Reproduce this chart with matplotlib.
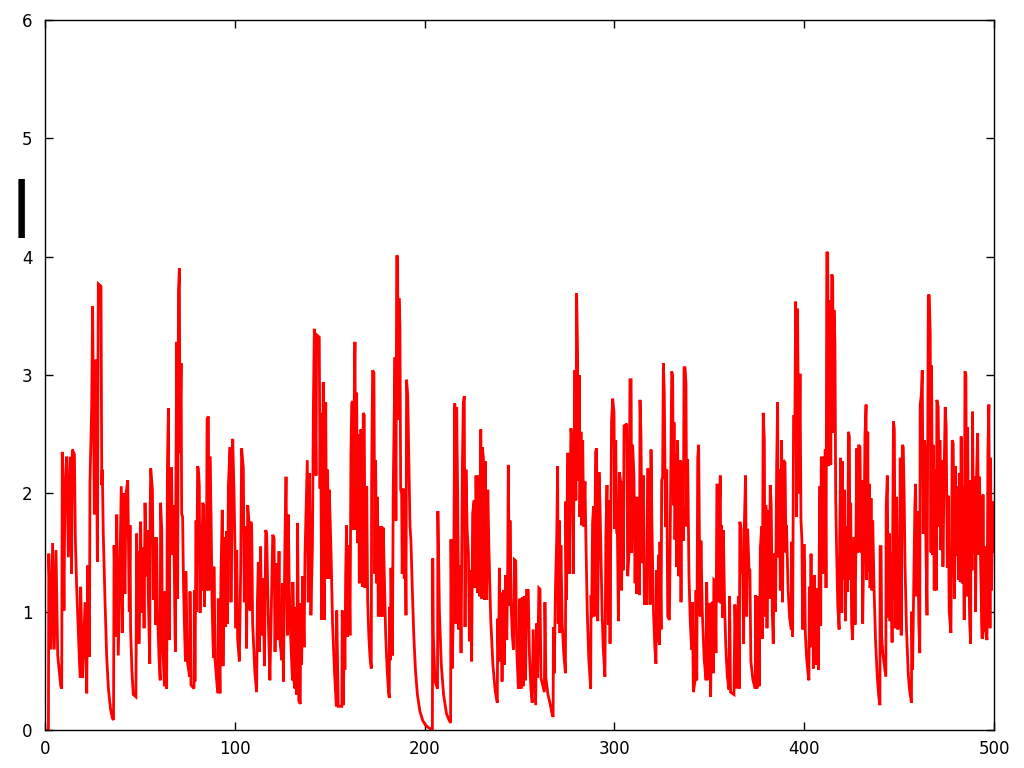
import matplotlib
matplotlib.use("Agg")
import matplotlib.pyplot as plt

# (time, intensity), one list per 100 time units
seg_000 = [
    (0, 0), (1.8, 0), (2.0, 1.49), (3.2, 0.68), (4.0, 1.58), (4.9, 0.68), (5.8, 1.52), (6.7, 0.63),
    (8.3, 0.37), (8.8, 0.35), (9.1, 2.35), (10.0, 1.01), (10.5, 2.06), (11.4, 2.31), (12.3, 1.46),
    (13.2, 2.31), (14.0, 1.32), (14.4, 2.37), (15.5, 2.33), (16.0, 1.6), (16.7, 1.2), (18.1, 0.6),
    (18.6, 0.44), (18.8, 1.21), (19.8, 0.44), (21.1, 1.08), (22.0, 0.31), (22.5, 1.39), (23.4, 0.62),
    (23.7, 2.1), (24.6, 2.73), (25.1, 3.58), (26.0, 1.82), (26.9, 3.13), (27.6, 1.42), (28.1, 3.77),
    (29.5, 3.75), (29.9, 2.07), (30.2, 2.2), (30.7, 1.66), (31.6, 1.1), (32.5, 0.62), (33.4, 0.35),
    (34.5, 0.18), (35.5, 0.1), (36.1, 0.085), (36.4, 1.56), (37.4, 0.79), (37.8, 1.82), (38.6, 0.63),
    (39.5, 1.41), (40.2, 2.06), (40.7, 0.82), (41.3, 2.0), (42.1, 1.15), (42.7, 2.0), (43.6, 2.11),
    (44.4, 1.0), (44.8, 1.73), (45.1, 0.85), (45.8, 0.5), (46.5, 0.30), (47.9, 0.28), (48.3, 1.66),
    (48.7, 1.2), (49.2, 1.51), (49.5, 0.73), (50.4, 1.76), (50.9, 0.99), (51.8, 1.54), (52.2, 0.86),
    (52.7, 1.92), (53.6, 1.3), (53.9, 1.69), (54.4, 1.15), (55.2, 0.56), (55.4, 1.86), (55.7, 2.21),
    (56.6, 2.03), (57.1, 1.1), (57.6, 1.63), (58.3, 0.89), (58.8, 1.63), (59.2, 1.04), (60.1, 0.6),
    (60.7, 0.42), (60.9, 1.92), (61.5, 1.69), (61.8, 0.83), (62.9, 0.37), (63.2, 1.17), (64.1, 0.35),
    (64.5, 2.21), (65.0, 2.72), (65.5, 0.76), (65.9, 2.21), (66.7, 2.21), (67.1, 1.48), (67.6, 1.9),
    (68.1, 1.41), (68.5, 0.8), (68.8, 0.66), (68.9, 1.89), (69.4, 3.28), (69.9, 1.11), (70.3, 3.70),
    (70.8, 3.90), (71.1, 2.34), (71.7, 3.10), (72.0, 1.83), (72.5, 1.8), (73.0, 1.2), (73.6, 0.8),
    (74.0, 0.58), (74.2, 1.34), (75.0, 0.58), (76.2, 0.45), (76.4, 1.17), (76.9, 0.38), (78.5, 0.35),
    (78.7, 1.18), (79.0, 0.41), (79.6, 1.77), (79.9, 1.0), (80.4, 2.23), (80.8, 2.21), (81.3, 2.06),
    (81.7, 0.99), (82.2, 1.73), (82.5, 1.18), (83.1, 1.92), (83.6, 1.9), (84.0, 1.04), (84.7, 1.73),
    (85.0, 1.18), (85.4, 2.63), (86.1, 2.65), (86.4, 1.18), (86.9, 2.31), (87.5, 1.8), (88.0, 1.1),
    (88.5, 0.75), (88.8, 0.61), (89.0, 1.38), (89.6, 0.59), (91.0, 0.31), (91.3, 1.11), (92.2, 0.31),
    (92.7, 1.31), (93.4, 1.86), (93.8, 0.54), (94.5, 1.63), (95.2, 0.87), (95.7, 1.68), (96.2, 0.9),
    (96.6, 2.06), (97.5, 2.39), (98.0, 1.08), (98.9, 2.46), (99.6, 2.0),
]

seg_100 = [
    (100.1, 1.52), (100.6, 0.86), (101.0, 1.52), (101.5, 0.77), (102.4, 0.58), (103.1, 1.35),
    (103.6, 2.38), (104.5, 2.21), (105.0, 1.08), (105.4, 1.72), (105.9, 1.45), (106.2, 0.69),
    (106.8, 1.9), (107.5, 1.75), (108.0, 1.01), (108.5, 1.76), (108.9, 1.7), (109.4, 0.9),
    (110.6, 0.48), (111.5, 0.32), (111.9, 1.08), (112.4, 1.42), (112.9, 0.66), (113.6, 1.55),
    (114.2, 0.8), (115.0, 1.28), (115.6, 0.54), (116.3, 1.69), (116.8, 1.66), (117.7, 0.9),
    (118.5, 0.42), (119.4, 1.18), (120.0, 1.65), (120.7, 1.62), (121.2, 0.66), (121.7, 1.41),
    (122.6, 0.76), (123.3, 1.51), (123.8, 0.76), (124.7, 0.59), (125.2, 1.24), (125.6, 0.41),
    (126.4, 1.58), (127.0, 2.14), (127.7, 0.8), (128.2, 1.82), (128.7, 1.2), (129.4, 0.8),
    (130.2, 0.48), (130.5, 0.42), (130.6, 1.25), (131.2, 0.41), (131.7, 0.35), (132.2, 1.04),
    (132.6, 0.30), (133.1, 1.75), (133.7, 0.25), (134.5, 0.22), (134.7, 1.07), (135.2, 0.55),
    (135.8, 1.30), (136.5, 0.70), (137.0, 1.49), (137.5, 1.83), (138.2, 2.28), (138.7, 1.08),
    (139.3, 2.17), (140.1, 0.97), (140.9, 1.55), (141.4, 2.73), (141.9, 3.39), (142.8, 2.15),
    (143.1, 3.34), (144.5, 3.32), (144.9, 2.04), (145.2, 2.68), (145.8, 0.93), (146.6, 2.94),
    (147.2, 0.93), (147.9, 2.77), (148.4, 1.28), (148.9, 2.20), (149.5, 1.28), (149.8, 2.03),
    (150.7, 1.5), (151.5, 0.9), (152.5, 0.5), (153.5, 0.2), (153.7, 1.01), (154.5, 0.2),
    (156.4, 0.2), (156.6, 1.01), (157.2, 0.21), (157.7, 0.95), (158.0, 0.51), (158.4, 1.30),
    (158.9, 1.73), (159.4, 0.79), (160.1, 1.56), (160.7, 0.8), (161.2, 2.34), (161.6, 2.76),
    (162.1, 2.78), (162.4, 1.69), (163.0, 2.9), (163.3, 3.28), (163.8, 1.69), (164.2, 2.85),
    (164.7, 1.58), (165.1, 2.5), (165.6, 1.24), (166.3, 2.54), (166.8, 2.52), (167.2, 1.21),
    (167.7, 2.68), (168.2, 2.66), (168.6, 1.2), (169.1, 1.27), (169.5, 2.06), (170.0, 1.1),
    (170.6, 0.8), (171.2, 0.62), (171.9, 0.52), (172.1, 2.11), (172.6, 3.04), (173.3, 3.02),
    (173.8, 1.32), (174.2, 2.28), (174.7, 1.24), (175.2, 1.97), (175.6, 0.96), (176.1, 1.72),
    (176.8, 0.96), (177.4, 1.72), (177.9, 0.96), (178.2, 1.71), (178.8, 1.3), (179.5, 0.8),
    (180.3, 0.5), (181.0, 0.32), (181.4, 0.27), (181.5, 1.04), (181.9, 0.59), (182.3, 1.37),
    (183.0, 0.63), (183.5, 2.07), (184.0, 2.68), (184.4, 3.15), (184.9, 1.77), (185.3, 4.01),
    (185.8, 4.0), (186.1, 2.62), (186.5, 3.65), (187.0, 3.41), (187.4, 2.03), (187.9, 2.0),
    (188.2, 1.32), (188.8, 2.04), (189.3, 1.28), (189.6, 2.0), (190.2, 0.97), (190.5, 2.96),
    (191.1, 2.83), (191.8, 2.17), (192.3, 1.72), (192.8, 1.6), (193.5, 1.2), (194.3, 0.8),
    (195.2, 0.5), (196.2, 0.3), (197.5, 0.16), (199.0, 0.08),
]

seg_200 = [
    (200.5, 0.04), (202.0, 0.02), (204.1, 0.0), (204.3, 1.45), (204.6, 0.8), (205.5, 0.41),
    (206.8, 0.35), (207.0, 1.85), (207.8, 1.0), (208.8, 0.55), (210.0, 0.3), (211.5, 0.14),
    (213.0, 0.08), (213.7, 0.06), (213.9, 1.61), (214.5, 0.52), (215.2, 1.0), (215.9, 2.76),
    (216.6, 0.9), (216.9, 2.73), (217.4, 2.01), (218.0, 0.85), (218.7, 1.39), (219.2, 0.65),
    (219.9, 2.24), (220.4, 2.76), (220.9, 2.82), (221.3, 0.87), (221.8, 2.2), (222.4, 1.7),
    (223.1, 1.49), (223.6, 0.75), (224.3, 1.35), (224.8, 0.58), (225.3, 1.83), (226.1, 1.94),
    (226.6, 1.2), (227.1, 2.15), (227.8, 1.16), (228.3, 2.15), (228.9, 1.13), (229.6, 2.54),
    (230.1, 1.11), (230.4, 2.39), (231.0, 2.3), (231.5, 1.1), (232.0, 2.27), (232.7, 1.1),
    (233.3, 2.03), (233.8, 1.6), (234.8, 0.95), (236.0, 0.55), (237.2, 0.33), (238.3, 0.23),
    (238.5, 0.94), (239.0, 0.59), (239.4, 1.37), (239.7, 0.58), (240.3, 1.16), (240.8, 0.41),
    (241.5, 1.18), (242.0, 0.55), (242.6, 1.31), (243.3, 0.76), (243.8, 1.39), (244.1, 2.24),
    (244.7, 1.05), (245.0, 1.77), (245.5, 1.1), (246.2, 0.8), (246.8, 0.68), (247.3, 1.44),
    (248.0, 1.43), (248.5, 0.7), (249.4, 0.35), (250.2, 1.11), (250.8, 0.35), (251.5, 1.12),
    (252.0, 0.37), (252.5, 1.13), (253.2, 0.42), (253.7, 1.18), (254.6, 1.18), (255.2, 0.65),
    (256.0, 0.35), (256.7, 0.23), (257.2, 0.85), (258.5, 0.21), (259.0, 0.9), (259.5, 0.44),
    (260.2, 1.2), (260.8, 1.19), (261.3, 0.44), (263.1, 0.32), (263.4, 1.08), (263.9, 0.44),
    (265.0, 0.3), (266.0, 0.23), (267.0, 0.15), (267.7, 0.11), (267.9, 0.87), (268.3, 0.48),
    (269.0, 1.24), (269.6, 1.61), (270.1, 2.23), (270.4, 0.9), (271.0, 1.77), (271.3, 0.82),
    (271.8, 1.56), (272.5, 0.9), (273.3, 0.65), (274.2, 0.48), (274.4, 1.93), (274.8, 1.1),
    (275.3, 2.34), (276.0, 2.32), (276.2, 1.32), (277.1, 2.55), (277.8, 2.42), (278.3, 1.32),
    (278.9, 2.42), (279.2, 3.04), (279.7, 1.94), (280.1, 3.69), (280.6, 3.18), (281.0, 2.11),
    (281.5, 3.0), (281.8, 1.80), (282.4, 2.52), (282.7, 1.73), (283.3, 2.45), (283.8, 1.72),
    (284.5, 2.1), (285.0, 1.6), (285.7, 1.0), (286.5, 0.6), (287.5, 0.35), (287.7, 1.14),
    (288.0, 0.95), (288.5, 1.75), (289.0, 1.89), (289.4, 0.96), (290.1, 2.35), (290.6, 2.38),
    (291.2, 0.92), (291.9, 2.18), (292.4, 1.92), (292.9, 1.5), (293.5, 1.0), (294.1, 0.7),
    (295.0, 0.45), (295.5, 1.63), (296.1, 2.07), (296.8, 0.89), (297.3, 1.94), (297.7, 0.73),
    (298.5, 2.61), (299.1, 2.80), (299.8, 2.68),
]

seg_300 = [
    (300.2, 1.7), (300.7, 2.45), (301.2, 1.67), (301.6, 1.65), (302.1, 0.92), (302.6, 2.18),
    (303.3, 2.1), (303.8, 1.18), (304.4, 2.10), (304.7, 1.35), (305.1, 2.58), (305.6, 2.56),
    (306.5, 2.59), (307.0, 1.30), (307.7, 1.5), (308.2, 2.96), (308.8, 2.96), (309.1, 1.5),
    (309.6, 2.41), (310.3, 2.15), (310.9, 1.24), (311.4, 1.97), (311.7, 1.15), (312.6, 1.97),
    (313.2, 1.14), (313.5, 2.79), (314.0, 2.49), (314.6, 1.41), (315.3, 2.15), (315.8, 1.06),
    (316.7, 1.36), (317.0, 1.06), (317.5, 2.21), (318.2, 2.19), (318.8, 1.06), (319.3, 2.37),
    (319.8, 1.7), (320.6, 1.0), (321.3, 0.7), (321.9, 0.56), (322.3, 1.35), (322.8, 0.75),
    (323.2, 1.48), (323.7, 0.72), (324.0, 1.59), (324.6, 0.85), (324.9, 2.11), (325.4, 2.14),
    (325.8, 3.10), (326.3, 2.84), (326.9, 1.72), (327.6, 2.2), (328.1, 0.96), (329.0, 0.93),
    (329.8, 2.34), (330.2, 3.03), (330.7, 2.99), (331.1, 1.9), (331.4, 2.6), (331.9, 1.61),
    (332.5, 2.34), (332.8, 1.38), (333.3, 2.45), (333.9, 1.30), (334.6, 2.28), (335.1, 1.08),
    (335.6, 2.27), (336.3, 1.6), (336.7, 3.06), (337.2, 3.07), (337.7, 2.93), (338.1, 1.72),
    (338.6, 2.29), (339.3, 1.3), (340.0, 0.9), (340.7, 0.68), (341.1, 1.08), (341.6, 0.32),
    (342.5, 0.42), (343.0, 1.18), (343.4, 0.42), (343.9, 2.30), (344.4, 2.41), (345.1, 0.96),
    (345.6, 1.6), (346.3, 1.0), (347.3, 0.6), (348.3, 0.42), (348.6, 1.25), (349.5, 0.42),
    (350.3, 1.07), (350.7, 0.28), (351.2, 1.07), (351.7, 1.08), (352.1, 0.48), (352.4, 1.27),
    (353.0, 1.26), (353.5, 0.65), (354.0, 2.07), (354.5, 2.07), (354.9, 1.08), (355.3, 1.86),
    (355.8, 2.15), (356.1, 1.07), (356.5, 1.73), (357.0, 0.95), (357.4, 1.69), (358.0, 1.1),
    (358.7, 0.7), (359.5, 0.45), (360.4, 0.34), (360.7, 1.13), (361.2, 0.32), (363.0, 0.30),
    (363.5, 1.06), (364.4, 0.35), (365.3, 1.13), (365.8, 0.35), (366.1, 1.76), (366.7, 1.7),
    (367.0, 1.32), (367.5, 1.5), (368.1, 0.73), (368.4, 1.70), (369.1, 2.15), (369.7, 0.96),
    (370.2, 1.7), (370.9, 1.37), (371.4, 1.35), (371.9, 0.58), (373.0, 0.42), (374.2, 0.35),
    (374.4, 1.14), (375.1, 0.35), (375.8, 1.13), (376.3, 0.37), (376.9, 1.54), (377.6, 1.72),
    (377.9, 0.77), (378.4, 2.68), (379.0, 2.45), (379.3, 0.96), (379.8, 1.9), (380.4, 0.86),
    (381.1, 1.86), (381.6, 1.11), (382.1, 2.07), (382.6, 1.92), (383.2, 0.98), (383.7, 0.73),
    (384.2, 1.49), (384.9, 1.0), (385.5, 2.24), (386.0, 2.77), (386.3, 1.46), (386.9, 2.20),
    (387.4, 1.18), (388.1, 2.45), (388.6, 1.08), (389.1, 2.28), (389.9, 2.26), (390.4, 1.5),
    (390.7, 1.73), (391.5, 1.2), (392.3, 0.95), (393.2, 0.85), (393.4, 1.59), (393.9, 0.79),
    (394.4, 2.65), (395.1, 2.65), (395.5, 3.62), (396.0, 1.80), (396.5, 3.56), (397.2, 2.0),
    (397.8, 3.01), (398.3, 1.77), (398.8, 1.6), (399.2, 0.85), (399.7, 1.56),
]

seg_400 = [
    (400.1, 1.56), (400.6, 0.82), (401.3, 0.6), (402.0, 0.48), (402.5, 0.42), (402.7, 1.21),
    (403.1, 0.7), (403.6, 1.49), (404.1, 0.72), (404.5, 1.3), (404.8, 0.52), (405.4, 1.31),
    (406.2, 0.55), (406.9, 1.2), (407.5, 0.51), (408.0, 1.63), (408.3, 2.06), (408.7, 0.88),
    (409.0, 2.30), (409.7, 2.30), (410.1, 1.32), (410.6, 2.0), (411.1, 2.37), (411.5, 1.20),
    (411.9, 4.04), (412.4, 4.03), (412.7, 2.23), (413.3, 3.63), (413.6, 3.21), (414.0, 2.24),
    (414.5, 3.85), (415.0, 3.83), (415.4, 2.51), (415.7, 3.55), (416.2, 3.27), (416.6, 1.96),
    (417.1, 1.5), (417.7, 1.05), (418.4, 0.85), (418.7, 1.6), (419.2, 2.30), (419.8, 0.99),
    (420.1, 2.27), (420.6, 1.27), (421.2, 2.03), (421.7, 0.92), (422.4, 1.72), (422.9, 1.17),
    (423.3, 2.52), (423.8, 2.48), (424.1, 1.27), (424.5, 1.92), (425.0, 0.9), (425.5, 0.76),
    (426.3, 1.63), (426.8, 0.89), (427.3, 1.65), (427.7, 2.38), (428.2, 1.5), (428.7, 2.41),
    (429.4, 2.39), (429.9, 1.5), (430.3, 2.11), (430.8, 0.90), (431.5, 1.66), (432.0, 2.48),
    (432.6, 2.75), (432.9, 1.27), (433.5, 2.52), (433.8, 1.34), (434.3, 2.08), (434.7, 1.2),
    (435.2, 1.96), (435.7, 1.18), (436.1, 1.77), (436.8, 1.2), (437.6, 0.75), (438.5, 0.45),
    (439.3, 0.28), (439.9, 0.21), (440.0, 1.55), (440.5, 1.55), (440.8, 0.8), (441.4, 0.65),
    (443.0, 0.45), (443.2, 1.89), (443.8, 2.15), (444.3, 0.95), (444.9, 1.66), (445.2, 0.92),
    (445.7, 1.5), (446.3, 0.74), (447.0, 2.61), (447.5, 2.54), (448.0, 0.86), (448.7, 1.97),
    (449.3, 0.85), (449.6, 1.61), (450.1, 0.86), (450.6, 2.30), (451.1, 0.80), (451.7, 2.41),
    (452.2, 2.39), (452.7, 1.95), (453.1, 1.4), (453.9, 0.85), (454.8, 0.48), (455.4, 0.35),
    (456.5, 0.23), (456.7, 1.0), (457.1, 0.51), (457.8, 1.32), (458.3, 1.89), (458.7, 2.08),
    (459.2, 1.13), (459.7, 1.85), (460.1, 1.32), (460.4, 0.9), (460.9, 0.65), (461.1, 2.75),
    (461.7, 2.83), (462.2, 3.04), (462.7, 1.66), (463.3, 2.45), (463.6, 2.40), (464.1, 1.6),
    (464.7, 0.97), (465.4, 3.68), (465.9, 3.67), (466.4, 3.35), (466.8, 1.5), (467.1, 3.08),
    (467.6, 1.48), (468.0, 2.41), (468.5, 1.18), (469.1, 2.20), (469.6, 1.18), (469.9, 2.79),
    (470.6, 2.73), (471.2, 1.72), (471.5, 2.45), (472.0, 1.52), (472.6, 2.28), (473.1, 1.38),
    (473.8, 2.25), (474.3, 2.73), (474.8, 2.56), (475.4, 1.37), (475.9, 1.98), (476.4, 1.0),
    (477.3, 0.82), (478.0, 2.45), (478.5, 2.42), (479.1, 1.11), (479.6, 2.23), (480.1, 1.47),
    (480.6, 2.06), (481.2, 1.27), (481.7, 2.17), (482.2, 1.25), (482.7, 2.48), (483.3, 1.24),
    (483.8, 2.06), (484.3, 0.93), (484.7, 3.03), (485.2, 3.0), (485.7, 1.13), (486.1, 2.56),
    (486.6, 1.5), (487.2, 0.9), (487.7, 0.73), (487.9, 2.11), (488.4, 1.35), (488.7, 2.69),
    (489.2, 1.49), (489.8, 2.14), (490.3, 1.0), (490.8, 2.14), (491.4, 2.51), (491.9, 1.48),
    (492.4, 2.14), (492.9, 1.46), (493.5, 0.9), (493.8, 0.77), (494.2, 1.99), (494.7, 0.83),
    (495.2, 1.55), (495.7, 0.82), (496.3, 0.76), (496.8, 2.35), (497.3, 2.75), (497.9, 0.86),
    (498.2, 2.30), (498.7, 1.18), (499.3, 1.93), (499.8, 1.5), (500.0, 1.72),
]

x_ticks = [0, 100, 200, 300, 400, 500]
y_ticks = [0, 1, 2, 3, 4, 5, 6]

samples = seg_000 + seg_100 + seg_200 + seg_300 + seg_400
t = [p[0] for p in samples]
lam = [p[1] for p in samples]

fig = plt.figure(figsize=(10.24, 7.68), dpi=100)
ax = fig.add_axes([45 / 1024, 1 - 730 / 768, 949 / 1024, 710 / 768])

ax.plot(t, lam, color='#ff0000', linewidth=2.0, solid_joinstyle='miter')

ax.set_xlim(0, 500)
ax.set_ylim(0, 6)
ax.set_xticks(x_ticks)
ax.set_yticks(y_ticks)
ax.tick_params(direction='in', length=6, width=1, top=True, right=True,
               labelsize=12, color='black')
ax.tick_params(axis='x', pad=7)
ax.tick_params(axis='y', pad=9)
for s in ax.spines.values():
    s.set_linewidth(1.0)

# y label of the original renders as a solid black bar
fig.text(21 / 1024, 1 - 208 / 768, '|', fontsize=42, fontweight='bold',
         ha='center', va='center')

fig.savefig('out.png', dpi=100)
